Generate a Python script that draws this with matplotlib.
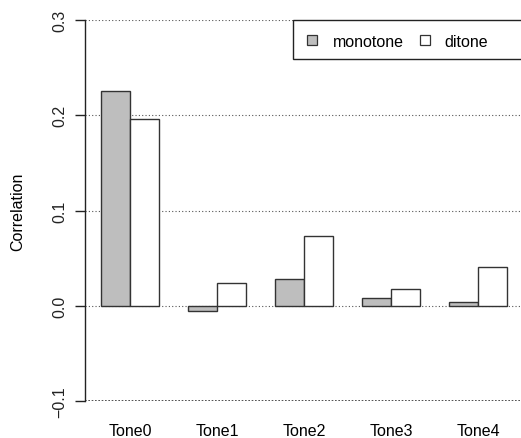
import matplotlib
matplotlib.use("Agg")
import matplotlib.pyplot as plt
from matplotlib.patches import Rectangle
import numpy as np

categories = ["Tone0", "Tone1", "Tone2", "Tone3", "Tone4"]
series_names = ["monotone", "ditone"]
monotone = [0.225, -0.006, 0.028, 0.008, 0.004]
ditone = [0.196, 0.024, 0.073, 0.018, 0.041]
yticks = [-0.1, 0.0, 0.1, 0.2, 0.3]
ytick_labels = ["\u22120.1", "0.0", "0.1", "0.2", "0.3"]
fills = ["#BEBEBE", "#FFFFFF"]

plt.rcParams['font.family'] = ['Liberation Sans', 'DejaVu Sans']
FS = 11.5
W, H = 521, 439
fig = plt.figure(figsize=(W / 100, H / 100), dpi=100)
# axes in pixel geometry
l, r, t, b = 85, 528, 21, 402
ax = fig.add_axes([l / W, (H - b) / H, (r - l) / W, (b - t) / H])

def fx(px):
    return px / W

def fy(py):
    return (H - py) / H

# R-like barplot positions: bar width 1, group gap 1
ax.set_xlim((l - 72) / 29, (r - 72) / 29)
ax.set_ylim(-0.1, 0.3)

n = len(categories)
starts = np.arange(n) * 3 + 1
ax.bar(starts, monotone, width=1, align='edge', color=fills[0],
       edgecolor='#333333', linewidth=1.0, zorder=3)
ax.bar(starts + 1, ditone, width=1, align='edge', color=fills[1],
       edgecolor='#333333', linewidth=1.0, zorder=3)

for yv in yticks[1:]:
    ax.axhline(yv, color='#555555', linestyle=(0, (1, 2)), linewidth=0.8, zorder=1)
ax.axhline(-0.1, color='#333333', linestyle=(0, (1, 1)), linewidth=1.2, zorder=1)

for s in ['top', 'right', 'bottom']:
    ax.spines[s].set_visible(False)
ax.spines['left'].set_color('#222222')
ax.spines['left'].set_linewidth(1.0)

ax.set_yticks(yticks)
ax.set_yticklabels(ytick_labels, rotation=90, va='center', fontsize=FS)
ax.tick_params(axis='y', length=7, width=1, pad=6, colors='#222222')
ax.set_xticks(starts + 1)
ax.set_xticklabels(categories, fontsize=FS)
ax.tick_params(axis='x', length=0, pad=16)

ax.set_ylabel("Correlation", fontsize=FS)
ax.yaxis.set_label_coords((25 - l) / (r - l), 0.5)

# legend (R style, topright of plot region)
frame = Rectangle((fx(293), fy(60)), fx(r) - fx(293), fy(21) - fy(60),
                  transform=fig.transFigure, facecolor='white',
                  edgecolor='#222222', linewidth=1.0, zorder=10)
fig.patches.append(frame)
sq_x = [306.5, 419.5]
txt_x = [333, 444]
for i, name in enumerate(series_names):
    sq = Rectangle((fx(sq_x[i]), fy(46)), fx(10.5), fy(36) - fy(46),
                   transform=fig.transFigure, facecolor=fills[i],
                   edgecolor='#333333', linewidth=0.9, zorder=11)
    fig.patches.append(sq)
    fig.text(fx(txt_x[i]), fy(41), name, fontsize=FS, ha='left',
             va='center_baseline', zorder=12)

fig.savefig("out.png", dpi=100)
